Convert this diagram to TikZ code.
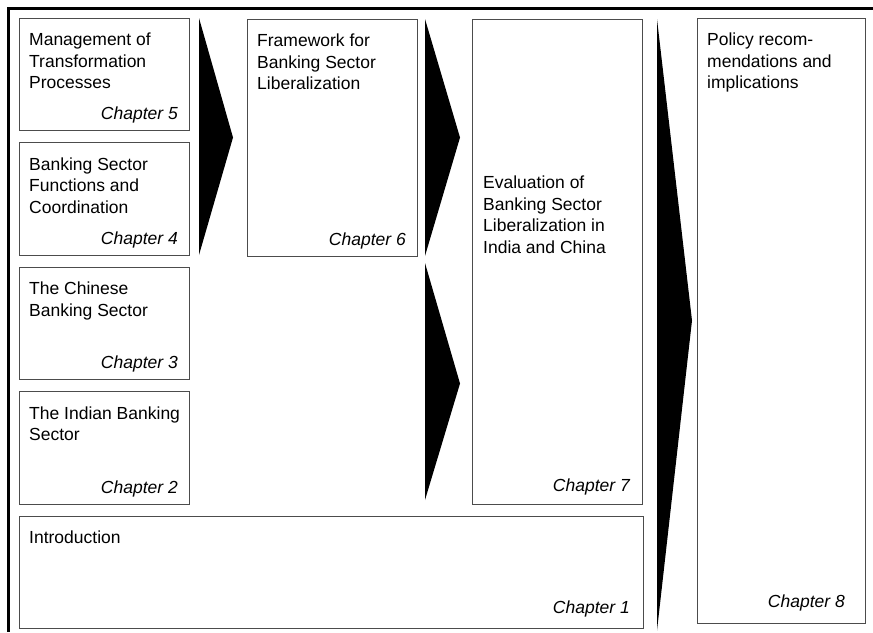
\documentclass[tikz,border=0pt]{standalone}
\usepackage{fontspec}
\setmainfont{Liberation Sans}
\usetikzlibrary{positioning}

\begin{document}
\begin{tikzpicture}[
    x=1pt, y=-1pt,
    box/.style={
        draw=black!70,
        line width=1pt,
        minimum width=170pt,
        minimum height=112.5pt,
        inner sep=0pt,
        outer sep=0pt
    },
    title/.style={
        align=left,
        inner sep=0pt,
        font=\fontsize{17.5}{21.5}\selectfont
    },
    chap/.style={
        inner sep=0pt,
        anchor=base east,
        font=\fontsize{17.5}{21.5}\selectfont\itshape
    },
    chevron/.style={
        fill=black
    }
]
\useasboundingbox (0,0) rectangle (873,632);

% frame
\draw[line width=3pt] (873,8.5) -- (8.5,8.5) -- (8.5,632);

% left column
\node[box, anchor=north west] (ch5) at (19,18) {};
\node[box, below=12pt of ch5] (ch4) {};
\node[box, below=12pt of ch4] (ch3) {};
\node[box, below=12pt of ch3] (ch2) {};
\node[box, below=12pt of ch2.south west, anchor=north west, minimum width=624pt] (ch1) {};

% other columns
\node[box, anchor=north west, minimum height=237pt] (ch6) at (247,19) {};
\node[box, anchor=north west, minimum height=485pt] (ch7) at (472,19) {};
\node[box, anchor=north west, minimum width=168pt, minimum height=605pt] (ch8) at (697,18) {};

% titles
\node[title, below right=15pt and 10pt of ch5.north west] (t5) {Management of\\Transformation\\Processes};
\node[title, below right=15pt and 10pt of ch4.north west] (t4) {Banking Sector\\Functions and\\Coordination};
\node[title, below right=15pt and 10pt of ch3.north west] (t3) {The Chinese\\Banking Sector};
\node[title, below right=15pt and 10pt of ch2.north west] (t2) {The Indian Banking\\Sector};
\node[title, below right=15pt and 10pt of ch1.north west] (t1) {Introduction};
\node[title, below right=15pt and 10pt of ch6.north west] (t6) {Framework for\\Banking Sector\\Liberalization};
\node[title, below right=157pt and 11pt of ch7.north west] (t7) {Evaluation of\\Banking Sector\\Liberalization in\\India and China};
\node[title, below right=15pt and 10pt of ch8.north west] (t8) {Policy recom-\\mendations and\\implications};

% chapter numbers
\node[chap] (c5) at ([shift={(-11pt,11pt)}]ch5.south east) {Chapter 5};
\node[chap] (c4) at ([shift={(-11pt,11pt)}]ch4.south east) {Chapter 4};
\node[chap] (c3) at ([shift={(-11pt,11pt)}]ch3.south east) {Chapter 3};
\node[chap] (c2) at ([shift={(-11pt,11pt)}]ch2.south east) {Chapter 2};
\node[chap] (c1) at ([shift={(-13pt,15pt)}]ch1.south east) {Chapter 1};
\node[chap] (c6) at ([shift={(-11pt,11pt)}]ch6.south east) {Chapter 6};
\node[chap] (c7) at ([shift={(-12pt,13pt)}]ch7.south east) {Chapter 7};
\node[chap] (c8) at ([shift={(-20pt,16pt)}]ch8.south east) {Chapter 8};

% chevrons
\fill[chevron] ([xshift=10pt]ch5.north east) -- ([xshift=-14pt]ch6.west) -- ([xshift=10pt]ch4.south east) -- cycle;
\fill[chevron] ([xshift=8pt]ch6.north east) -- ([xshift=-12pt]ch7.west |- ch6.west) -- ([xshift=8pt]ch6.south east) -- cycle;
\fill[chevron] ([xshift=8pt,yshift=4pt]ch6.east |- ch3.north) -- ([xshift=-12pt,yshift=8pt]ch7.west |- ch2.north) -- ([xshift=8pt,yshift=4pt]ch6.east |- ch2.south) -- cycle;
\fill[chevron] ([xshift=15pt]ch7.north east) -- ([xshift=-5pt]ch8.west) -- ([xshift=15pt,yshift=-2pt]ch7.east |- ch1.south) -- cycle;

\end{tikzpicture}
\end{document}
